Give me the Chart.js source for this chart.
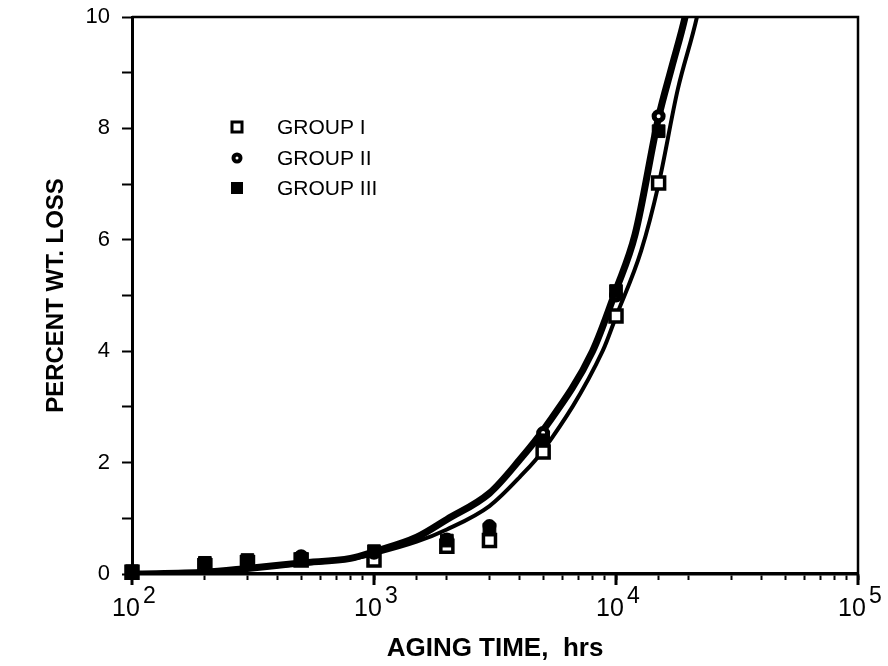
<!DOCTYPE html>
<html>
<head>
<meta charset="utf-8">
<title>Percent weight loss vs aging time</title>
<script src="https://cdn.jsdelivr.net/npm/chart.js@4"></script>
<style>
  body { margin: 0; background: #fff; }
  canvas { display: block; }
</style>
</head>
<body>
<canvas id="lossChart" width="888" height="666"></canvas>
<script>
// MEASURED POINTS
const hours = [100, 200, 300, 500, 1000, 2000, 3000, 5000, 10000, 15000];
const groupI = [0.03, 0.15, 0.2, 0.25, 0.25, 0.5, 0.6, 2.19, 4.63, 7.02];
const groupII = [0.04, 0.17, 0.22, 0.32, 0.38, 0.62, 0.86, 2.53, 5.0, 8.22];
const groupIII = [0.05, 0.2, 0.25, 0.27, 0.41, 0.6, 0.8, 2.4, 5.08, 7.95];

// FITTED CURVES (hand drawn in the original)
const upperHours = [100, 200, 300, 500, 800, 1000, 1500, 2000, 3000, 4000, 5000, 8000, 10000, 12000, 15000, 17000, 19300, 21000];
const upperLoss = [0, 0.03, 0.1, 0.2, 0.28, 0.4, 0.66, 0.98, 1.45, 2.05, 2.58, 4.0, 5.1, 6.1, 8.2, 9.1, 10.0, 10.8];
const lowerHours = [100, 200, 300, 500, 800, 1000, 1500, 2000, 3000, 4000, 5000, 8800, 10000, 12700, 15000, 18000, 21600, 23000];
const lowerLoss = [0, 0.03, 0.09, 0.18, 0.27, 0.36, 0.58, 0.8, 1.22, 1.74, 2.22, 4.0, 4.62, 5.8, 7.0, 8.7, 10.0, 10.6];

const legendLabels = ['GROUP I', 'GROUP II', 'GROUP III'];
const decades = [2, 3, 4, 5];

const FONT = '"Liberation Sans", Arial, sans-serif';

const pts = (xs, ys) => xs.map((x, i) => ({ x: x, y: ys[i] }));

const markerStyles = [
    { pointStyle: 'rect', radius: 8.5, fill: '#fff', border: 3.5 },
    { pointStyle: 'circle', radius: 4.5, fill: '#fff', border: 5 },
    { pointStyle: 'rect', radius: 9, fill: '#000', border: 1 }
];

// lower order is painted on top
function markerDataset(label, values, m, order) {
    return {
        label: label,
        data: pts(hours, values),
        order: order,
        clip: false,
        showLine: false,
        pointStyle: m.pointStyle,
        pointRadius: m.radius,
        pointBackgroundColor: m.fill,
        pointBorderColor: '#000',
        pointBorderWidth: m.border
    };
}

function curveDataset(xs, ys, width) {
    return {
        data: pts(xs, ys),
        order: 10,
        borderColor: '#000',
        borderWidth: width,
        pointRadius: 0,
        cubicInterpolationMode: 'monotone',
        fill: false
    };
}

// extra drawing: frame, long decade ticks, 10^n labels, legend
const decorations = {
    id: 'decorations',
    afterDraw(chart) {
        const { ctx, chartArea: area, scales: { x } } = chart;
        ctx.save();
        ctx.strokeStyle = '#000';
        ctx.lineWidth = 2.5;
        ctx.beginPath();
        ctx.moveTo(area.left, area.top);
        ctx.lineTo(area.right, area.top);
        ctx.lineTo(area.right, area.bottom);
        ctx.stroke();

        ctx.fillStyle = '#000';
        decades.forEach(p => {
            const px = x.getPixelForValue(Math.pow(10, p));
            ctx.lineWidth = 3;
            ctx.beginPath();
            ctx.moveTo(px, area.bottom);
            ctx.lineTo(px, area.bottom + 11);
            ctx.stroke();

            ctx.textBaseline = 'alphabetic';
            ctx.textAlign = 'center';
            ctx.font = '25px ' + FONT;
            ctx.fillText('10', px - 6, 616);
            ctx.textAlign = 'left';
            ctx.font = '23px ' + FONT;
            ctx.fillText(String(p), px + 11, 603);
        });

        // legend
        const lx = 237, ly = [127, 158, 188];
        legendLabels.forEach((label, i) => {
            const y = ly[i];
            ctx.fillStyle = '#000';
            if (i === 0) {
                ctx.lineWidth = 3;
                ctx.fillStyle = '#fff';
                ctx.fillRect(lx - 5, y - 5, 10, 10);
                ctx.strokeRect(lx - 5, y - 5, 10, 10);
            } else if (i === 1) {
                ctx.lineWidth = 4;
                ctx.fillStyle = '#fff';
                ctx.beginPath();
                ctx.arc(lx, y, 3.5, 0, Math.PI * 2);
                ctx.fill();
                ctx.stroke();
            } else {
                ctx.fillRect(lx - 6, y - 6, 12, 12);
            }
            ctx.fillStyle = '#000';
            ctx.font = '21px ' + FONT;
            ctx.textAlign = 'left';
            ctx.textBaseline = 'middle';
            ctx.fillText(label, 277, y + 1);
        });
        ctx.restore();
    }
};

const chartCtx = document.getElementById('lossChart');

new Chart(chartCtx, {
    type: 'line',
    data: {
        datasets: [
            markerDataset(legendLabels[0], groupI, markerStyles[0], 3),
            markerDataset(legendLabels[1], groupII, markerStyles[1], 2),
            markerDataset(legendLabels[2], groupIII, markerStyles[2], 1),
            curveDataset(upperHours, upperLoss, 7),
            curveDataset(lowerHours, lowerLoss, 4)
        ]
    },
    options: {
        responsive: false,
        animation: false,
        layout: { padding: { top: 17, right: 30, left: 0, bottom: 0 } },
        scales: {
            x: {
                type: 'logarithmic',
                min: 100,
                max: 100000,
                afterFit(scale) {
                    scale.height = 92;
                    scale.paddingLeft = 0;
                    scale.paddingRight = 0;
                },
                border: { color: '#000', width: 3.5 },
                grid: {
                    drawOnChartArea: false,
                    color: '#000',
                    tickLength: 6,
                    tickWidth: 2,
                    tickColor: '#000'
                },
                ticks: { display: false, autoSkip: false },
                title: {
                    display: true,
                    text: 'AGING TIME,  hrs',
                    color: '#000',
                    font: { family: FONT, size: 26, weight: 'bold' },
                    padding: { top: 0, bottom: 2 }
                }
            },
            y: {
                min: 0,
                max: 10,
                afterFit(scale) {
                    scale.width = 132;
                    scale.paddingTop = 0;
                    scale.paddingBottom = 0;
                },
                border: { color: '#000', width: 3 },
                grid: {
                    drawOnChartArea: false,
                    color: '#000',
                    tickLength: 10,
                    tickWidth: 2,
                    tickColor: '#000'
                },
                ticks: {
                    stepSize: 1,
                    color: '#000',
                    padding: 12,
                    font: { family: FONT, size: 22 },
                    callback: v => (v % 2 === 0 ? v : '')
                },
                title: {
                    display: true,
                    text: 'PERCENT WT. LOSS',
                    color: '#000',
                    font: { family: FONT, size: 24, weight: 'bold' },
                    padding: { top: 42, bottom: 0 }
                }
            }
        },
        plugins: {
            legend: { display: false },
            tooltip: { enabled: false }
        }
    },
    plugins: [decorations]
});
</script>
</body>
</html>
